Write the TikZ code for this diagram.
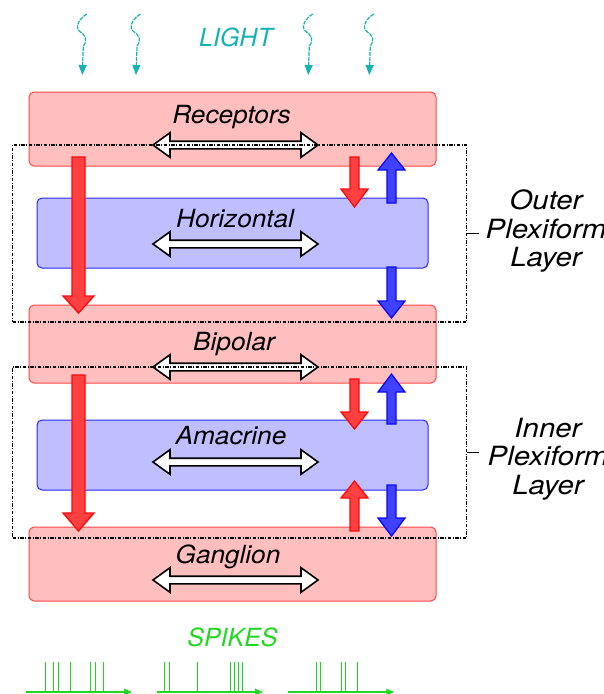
\documentclass[tikz,border=0pt]{standalone}
\usepackage{fontspec}
\setmainfont{TeX Gyre Heros}
\newfontfamily\cellfont{TeX Gyre Heros}[FakeStretch=1.05]
\newfontfamily\layerfont{TeX Gyre Heros}[FakeStretch=1.11]
\usetikzlibrary{arrows.meta}
\definecolor{boxred}{RGB}{255,191,191}
\definecolor{edgered}{RGB}{255,70,70}
\definecolor{boxblue}{RGB}{191,191,255}
\definecolor{edgeblue}{RGB}{40,40,255}
\definecolor{arrred}{RGB}{255,64,64}
\definecolor{arrredE}{RGB}{250,10,10}
\definecolor{arrblue}{RGB}{64,64,255}
\definecolor{arrblueE}{RGB}{10,10,240}
\definecolor{lightc}{RGB}{20,178,178}
\definecolor{spikec}{RGB}{34,215,34}
\newcommand{\blk}[7]{\draw[#1] ({#2-#6},#3) -- ({#2-#6},#4) -- ({#2-#7},#4) -- (#2,#5) -- ({#2+#7},#4) -- ({#2+#6},#4) -- ({#2+#6},#3) -- cycle;}
\newcommand{\dblarr}[2]{\draw[dblstyle] ({#1-82.5},#2) -- ({#1-65.5},{#2-12.3}) -- ({#1-65.5},{#2-3.8}) -- ({#1+65.5},{#2-3.8}) -- ({#1+65.5},{#2-12.3}) -- ({#1+82.5},#2) -- ({#1+65.5},{#2+12.3}) -- ({#1+65.5},{#2+3.8}) -- ({#1-65.5},{#2+3.8}) -- ({#1-65.5},{#2+12.3}) -- cycle;}
\newcommand{\wave}[1]{\draw[lightarr] ({#1+4.5},14) .. controls ({#1-2},18) and ({#1-8},26) .. ({#1-3},31) .. controls ({#1+3},35) and ({#1+6},40) .. ({#1+1},46) -- (#1,75);}
\begin{document}
\begin{tikzpicture}[x=1pt,y=-1pt,
  pinkbox/.style={draw=edgered, fill=boxred, line width=1pt, rounded corners=5pt, inner sep=0pt},
  bluebox/.style={draw=edgeblue, fill=boxblue, line width=1pt, rounded corners=5pt, inner sep=0pt},
  layerbox/.style={draw=black, line width=1.2pt, dash pattern=on 3.5pt off 1.5pt on 1pt off 1.5pt, inner sep=0pt},
  lbl/.style={font=\fontsize{25}{28}\selectfont\itshape, inner sep=0pt},
  celllbl/.style={font=\cellfont\fontsize{25}{28}\selectfont\itshape, inner sep=0pt},
  layerlbl/.style={font=\layerfont\fontsize{26.5}{28.5}\selectfont\itshape, inner sep=0pt, align=center},
  dblstyle/.style={draw=black, fill=white, line width=1.6pt, miter limit=10},
  redarr/.style={draw=arrredE, fill=arrred, line width=1.3pt},
  bluearr/.style={draw=arrblueE, fill=arrblue, line width=1.3pt},
  lightarr/.style={draw=lightc, line width=1.2pt, dash pattern=on 4pt off 1pt, -{Triangle[length=10pt,width=8pt]}},
  spk/.style={draw=spikec, line width=1pt},
  spkaxis/.style={draw=spikec, line width=1.1pt, -{Triangle[length=8pt,width=6.5pt]}}]
\useasboundingbox (0,0) rectangle (603,694);
% light
\wave{82.3}
\wave{136}
\wave{308.3}
\wave{369.3}
\node[lbl, text=lightc, anchor=base] (light) at (236,46.5) {LIGHT};
% cell layers
\node[pinkbox, minimum width=407pt, minimum height=74pt] (rec) at (232.5,129) {};
\node[bluebox, minimum width=391pt, minimum height=70pt] (hor) at (232.5,233) {};
\node[pinkbox, minimum width=407pt, minimum height=78pt] (bip) at (232.5,344) {};
\node[bluebox, minimum width=391pt, minimum height=70pt] (ama) at (232.5,455) {};
\node[pinkbox, minimum width=407pt, minimum height=74pt] (gan) at (232.5,564) {};
% vertical signal arrows
\blk{redarr}{78.5}{157}{296}{313}{6.5}{15.5}
\blk{redarr}{78.5}{375}{513}{531}{6.5}{15.5}
\blk{redarr}{354.5}{157}{189}{207}{4.5}{13.5}
\blk{bluearr}{391.5}{203}{170}{153}{4.5}{13.5}
\blk{bluearr}{391.5}{267}{301}{318}{4.5}{13.5}
\blk{redarr}{354.5}{379}{412}{429}{4.5}{13.5}
\blk{bluearr}{391.5}{424}{392}{374}{4.5}{13.5}
\blk{redarr}{354.5}{531}{498}{481}{4.5}{13.5}
\blk{bluearr}{391.5}{485}{518}{536}{4.5}{13.5}
% lateral arrows
\dblarr{235.5}{145}
\dblarr{235.5}{244}
\dblarr{235.5}{367}
\dblarr{235.5}{462}
\dblarr{235.5}{580}
% plexiform layers
\node[layerbox, minimum width=454pt, minimum height=177pt] (opl) at (239.5,233.5) {};
\node[layerbox, minimum width=454pt, minimum height=171pt] (ipl) at (239.5,452.5) {};
\coordinate (oplt) at ([xshift=12pt]opl.east);
\coordinate (iplt) at ([xshift=12pt]ipl.east);
\draw[line width=1pt] (opl.east) -- (oplt);
\draw[line width=1pt] (ipl.east) -- (iplt);
\node[layerlbl] (opllbl) at (546,231) {Outer\\Plexiform\\Layer};
\node[layerlbl] (ipllbl) at (548,459) {Inner\\Plexiform\\Layer};
% labels
\node[celllbl, anchor=base] (trec) at (231.5,123.5) {Receptors};
\node[celllbl, anchor=base] (thor) at (235,227) {Horizontal};
\node[celllbl, anchor=base] (tbip) at (234,350) {Bipolar};
\node[celllbl, anchor=base] (tama) at (231,444) {Amacrine};
\node[celllbl, anchor=base] (tgan) at (228,563) {Ganglion};
\node[lbl, text=spikec, anchor=base] (tspk) at (232.5,646) {SPIKES};
% spike trains
\draw[spkaxis] (26,692) -- (132,692);
\draw[spkaxis] (157,692) -- (263,692);
\draw[spkaxis] (288.3,692) -- (394.3,692);
\foreach \s in {45.7,53.7,58,70.3,90.7,95,103.3,164.7,169,197.3,230.7,234.7,238.7,242.7,316.3,320.3,341.3,345.3,357.3}
  \draw[spk] (\s,662) -- (\s,692);
\end{tikzpicture}
\end{document}
